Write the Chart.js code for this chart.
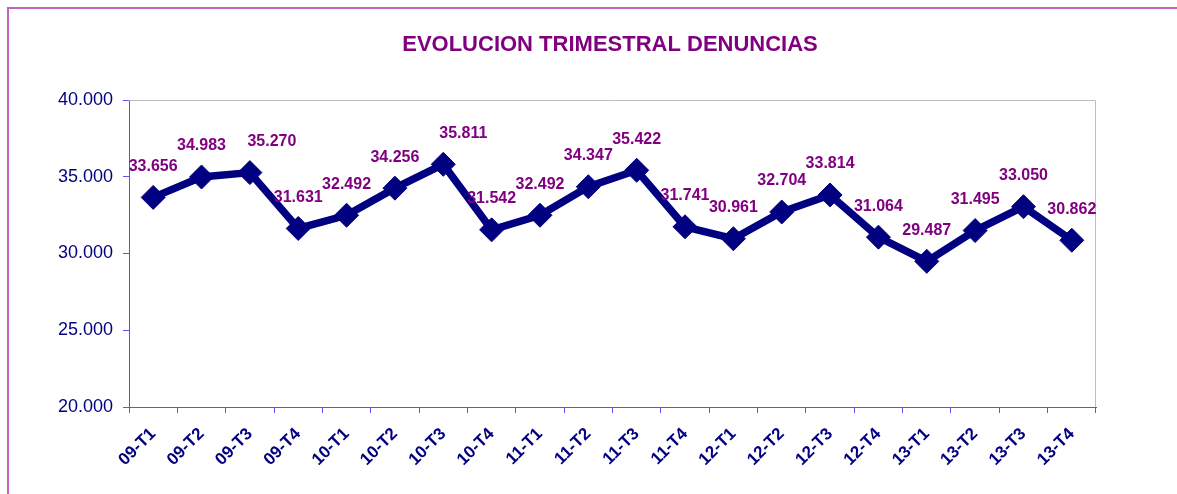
<!DOCTYPE html>
<html>
<head>
<meta charset="utf-8">
<script src="https://cdn.jsdelivr.net/npm/chart.js@4.4.1/dist/chart.umd.min.js"></script>
<style>
  body { margin: 0; background: #fff; }
  #caja { position: relative; width: 1177px; height: 494px; }
  #marco {
    position: absolute; left: 7px; top: 7px; width: 1200px; height: 520px;
    border-left: 2px solid #c064c0; border-top: 2px solid #c064c0;
    pointer-events: none;
  }
</style>
</head>
<body>
<div id="caja">
  <canvas id="grafico" width="1177" height="494"></canvas>
  <div id="marco"></div>
</div>
<script>
// trimestres y denuncias
const trimestres = [
  "09-T1", "09-T2", "09-T3", "09-T4",
  "10-T1", "10-T2", "10-T3", "10-T4",
  "11-T1", "11-T2", "11-T3", "11-T4",
  "12-T1", "12-T2", "12-T3", "12-T4",
  "13-T1", "13-T2", "13-T3", "13-T4"
];
const denuncias = [
  33656, 34983, 35270, 31631,
  32492, 34256, 35811, 31542,
  32492, 34347, 35422, 31741,
  30961, 32704, 33814, 31064,
  29487, 31495, 33050, 30862
];
const ejeMin = 20000;
const ejeMax = 40000;
const ejePaso = 5000;
const titulo = "EVOLUCION TRIMESTRAL DENUNCIAS";

const azul = "#000080";
const morado = "#800080";
const ejeColor = "#5454f8";
const fuente = "'Liberation Sans', Arial, sans-serif";

function formatoMiles(n) {
  return String(Math.round(n)).replace(/\B(?=(\d{3})+(?!\d))/g, ".");
}

// etiquetas de valor encima de cada punto (dos estaban movidas a mano en el original)
const etiquetasValor = {
  id: "etiquetasValor",
  afterDatasetsDraw(chart) {
    const ctx = chart.ctx;
    const meta = chart.getDatasetMeta(0);
    const corrimiento = { 2: 22, 6: 20 };
    ctx.save();
    ctx.font = "bold 16px " + fuente;
    ctx.fillStyle = morado;
    ctx.textAlign = "center";
    ctx.textBaseline = "middle";
    meta.data.forEach(function (p, i) {
      const dx = corrimiento[i] || 0;
      ctx.fillText(formatoMiles(denuncias[i]), p.x + dx, p.y - 31);
    });
    ctx.restore();
  }
};

// titulo y borde gris arriba / derecha del area
const tituloYBorde = {
  id: "tituloYBorde",
  beforeDatasetsDraw(chart) {
    const a = chart.chartArea;
    const ctx = chart.ctx;
    ctx.save();
    ctx.strokeStyle = "#bdbdbd";
    ctx.lineWidth = 1;
    ctx.beginPath();
    ctx.moveTo(a.left, a.top + 0.5);
    ctx.lineTo(a.right - 0.5, a.top + 0.5);
    ctx.lineTo(a.right - 0.5, a.bottom);
    ctx.stroke();

    ctx.font = "bold 22px " + fuente;
    ctx.fillStyle = morado;
    ctx.textAlign = "center";
    ctx.textBaseline = "middle";
    ctx.fillText(titulo, 610, 45);
    ctx.restore();
  }
};

const config = {
  type: "line",
  data: {
    labels: trimestres,
    datasets: [
      {
        label: "Denuncias",
        data: denuncias,
        borderColor: azul,
        backgroundColor: azul,
        borderWidth: 7.5,
        fill: false,
        tension: 0,
        pointStyle: "rectRot",
        pointRadius: 12,
        pointBorderWidth: 1,
        pointBackgroundColor: azul,
        pointBorderColor: azul
      }
    ]
  },
  options: {
    responsive: false,
    animation: false,
    layout: { padding: { left: 0, right: 81, top: 100, bottom: 0 } },
    plugins: {
      legend: { display: false },
      tooltip: { enabled: false },
      title: { display: false }
    },
    scales: {
      x: {
        offset: true,
        afterFit: function (s) { s.height = 87; },
        grid: {
          offset: true,
          drawOnChartArea: false,
          color: ejeColor,
          tickLength: 6
        },
        border: { color: ejeColor, width: 1 },
        ticks: {
          color: azul,
          minRotation: 45,
          maxRotation: 45,
          autoSkip: false,
          padding: 11,
          font: { family: fuente, size: 17, weight: "bold" }
        }
      },
      y: {
        min: ejeMin,
        max: ejeMax,
        afterFit: function (s) { s.width = 129; },
        grid: {
          drawOnChartArea: false,
          color: ejeColor,
          tickLength: 6
        },
        border: { color: ejeColor, width: 1 },
        ticks: {
          stepSize: ejePaso,
          color: azul,
          padding: 10,
          font: { family: fuente, size: 18 },
          callback: function (v) { return formatoMiles(v); }
        }
      }
    }
  },
  plugins: [tituloYBorde, etiquetasValor]
};

new Chart(document.getElementById("grafico"), config);
</script>
</body>
</html>
